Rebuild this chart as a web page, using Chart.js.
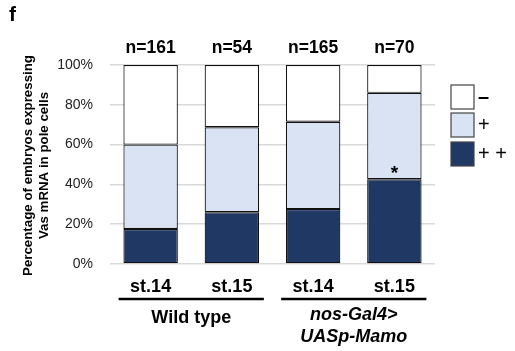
<!DOCTYPE html>
<html>
<head>
<meta charset="utf-8">
<script src="https://cdn.jsdelivr.net/npm/chart.js@4"></script>
<style>
  html, body { margin: 0; padding: 0; background: #fff; }
  #wrap { width: 515px; height: 351px; }
</style>
</head>
<body>
<div id="wrap"><canvas id="chart" width="515" height="351"></canvas></div>
<script>
// data
const stages = ["st.14", "st.15", "st.14", "st.15"];
const counts = ["n=161", "n=54", "n=165", "n=70"];
const strong = [17.6, 26.0, 27.6, 42.6];   // ++
const weak = [42.4, 42.7, 43.9, 43.4];     // +
const none = [40.0, 31.3, 28.5, 14.0];     // -
const groups = ["Wild type", "nos-Gal4>|UASp-Mamo"];
const yTicks = [0, 20, 40, 60, 80, 100];

const FONT = "'Liberation Sans', Arial, sans-serif";

// extra text: panel letter, n labels, axis title, groups, legend, star
const annotate = {
    id: "annotate",
    afterDraw(chart) {
        const ctx = chart.ctx;
        const x = chart.scales.x;
        const y = chart.scales.y;
        const area = chart.chartArea;
        ctx.save();
        ctx.fillStyle = "#000";

        ctx.font = "bold 21px " + FONT;
        ctx.textAlign = "left";
        ctx.textBaseline = "middle";
        ctx.fillText("f", 9, 15);

        // n= labels
        ctx.font = "bold 17.5px " + FONT;
        ctx.textAlign = "center";
        counts.forEach((c, i) => ctx.fillText(c, x.getPixelForValue(i), 48));

        // asterisk above the ++ segment of the last bar
        ctx.font = "bold 19px " + FONT;
        ctx.fillText("*", x.getPixelForValue(3), y.getPixelForValue(strong[3]) - 5);

        // y title
        ctx.save();
        ctx.translate(36, (area.top + area.bottom) / 2 + 1);
        ctx.rotate(-Math.PI / 2);
        ctx.font = "bold 13.3px " + FONT;
        ctx.fillText("Percentage of embryos expressing", 0, -8);
        ctx.fillText("Vas mRNA in pole cells", 0, 8);
        ctx.restore();

        // group lines and labels
        ctx.lineWidth = 2.5;
        ctx.strokeStyle = "#000";
        [[0, 1], [2, 3]].forEach(([a, b], g) => {
            const x0 = x.getPixelForValue(a) - 32;
            const x1 = x.getPixelForValue(b) + 32;
            ctx.beginPath();
            ctx.moveTo(x0, 299);
            ctx.lineTo(x1, 299);
            ctx.stroke();
            const cx = (x0 + x1) / 2;
            const lines = groups[g].split("|");
            if (lines.length === 1) {
                ctx.font = "bold 18px " + FONT;
                ctx.fillText(lines[0], cx, 318);
            } else {
                ctx.font = "italic bold 18px " + FONT;
                ctx.fillText(lines[0], cx, 315);
                ctx.fillText(lines[1], cx, 337);
            }
        });

        // legend
        const sets = chart.data.datasets.slice().reverse();
        const boxTop = [85, 113, 142];
        sets.forEach((ds, i) => {
            ctx.fillStyle = ds.backgroundColor;
            ctx.fillRect(451, boxTop[i], 23, 24);
            ctx.lineWidth = 1.2;
            ctx.strokeStyle = "#444";
            ctx.strokeRect(451, boxTop[i], 23, 24);
            ctx.fillStyle = "#000";
            ctx.font = (i === 0 ? "bold " : "") + "20px " + FONT;
            ctx.textAlign = "left";
            ctx.fillText(ds.label, 478, boxTop[i] + 12);
        });
        ctx.restore();
    }
};

new Chart(document.getElementById("chart"), {
    type: "bar",
    data: {
        labels: stages,
        datasets: [
            { label: "+ +", data: strong, backgroundColor: "#203864" },
            { label: "+", data: weak, backgroundColor: "#dae3f3" },
            { label: "\u2013", data: none, backgroundColor: "#ffffff" }
        ].map(d => Object.assign(d, {
            borderColor: "#111",
            borderWidth: 1.2,
            borderSkipped: false,
            categoryPercentage: 1,
            barPercentage: 0.67
        }))
    },
    options: {
        responsive: false,
        animation: false,
        layout: { padding: { top: 65, right: 80, left: 0, bottom: 0 } },
        plugins: { legend: { display: false }, tooltip: { enabled: false } },
        scales: {
            x: {
                stacked: true,
                grid: { display: false },
                border: { display: false },
                ticks: { color: "#000", font: { family: FONT, size: 18, weight: "bold" }, padding: 4 },
                afterFit: s => { s.height = 87; }
            },
            y: {
                stacked: true,
                min: 0,
                max: 100,
                afterBuildTicks: s => { s.ticks = yTicks.map(v => ({ value: v })); },
                grid: { color: "#d9d9d9", lineWidth: 1.5, drawTicks: false },
                border: { display: false },
                ticks: {
                    color: "#222",
                    font: { family: FONT, size: 14 },
                    padding: 17,
                    callback: v => v + "%"
                },
                afterFit: s => { s.width = 110; }
            }
        }
    },
    plugins: [annotate]
});
</script>
</body>
</html>
